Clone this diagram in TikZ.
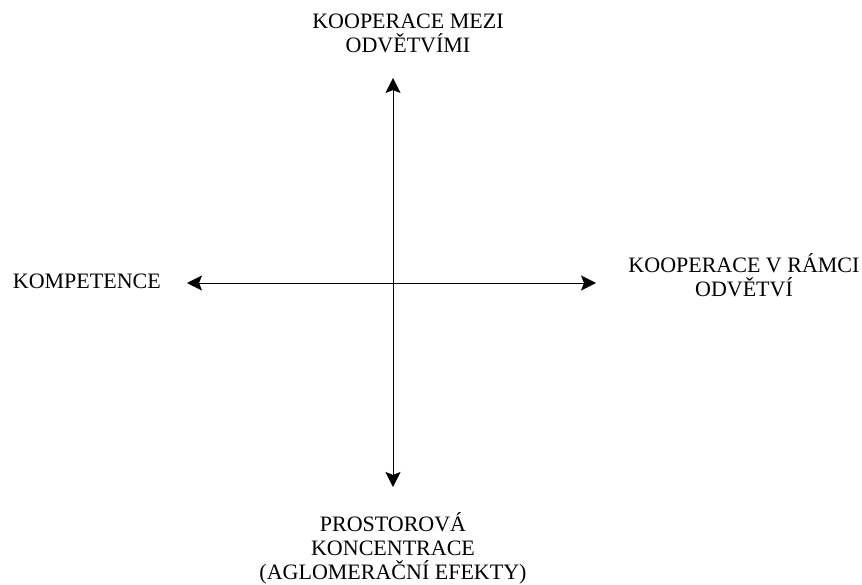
\documentclass[tikz,border=0pt]{standalone}
\usepackage{fontspec}
\setmainfont{Liberation Serif}
\usetikzlibrary{positioning}
\usetikzlibrary{arrows.meta}

\begin{document}
\begin{tikzpicture}[
x = 1pt, y = -1pt,
axis/.style = {draw = black, line width = 0.9pt, {Stealth[length = 15pt, width = 15pt, inset = 3pt]}-{Stealth[length = 15pt, width = 15pt, inset = 3pt]}},
pole/.style = {align = center, inner sep = 0pt, font = \fontsize{22}{24}\selectfont},
]
\useasboundingbox (0, 0) rectangle (862, 584);

\coordinate (N) at (393, 78);
\coordinate (S) at (393, 487);
\coordinate (W) at (187, 283);
\coordinate (E) at (596, 283);

\node[pole, anchor = north] (top) at (408, 14) {KOOPERACE MEZI\\ODVĚTVÍMI};
\node[pole, anchor = base east] (left) at (161, 288) {KOMPETENCE};
\node[pole, anchor = north] (right) at (744, 253) {KOOPERACE V RÁMCI\\ODVĚTVÍ};
\node[pole, anchor = north] (bottom) at (393, 512) {PROSTOROVÁ\\KONCENTRACE\\(AGLOMERAČNÍ EFEKTY)};

\draw[axis] (N) -- (S);
\draw[axis] (W) -- (E);
\end{tikzpicture}
\end{document}
